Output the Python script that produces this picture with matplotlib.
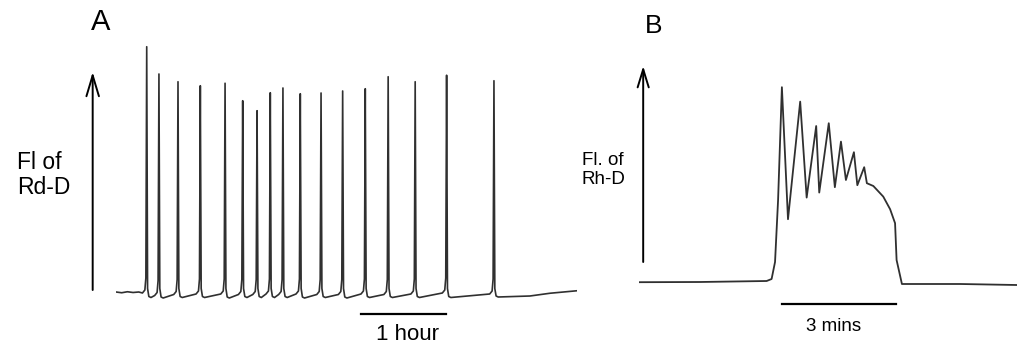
import matplotlib
matplotlib.use("Agg")
import matplotlib.pyplot as plt

plt.rcParams["font.family"] = ["Liberation Sans", "DejaVu Sans"]

W, H = 1021, 347

# --- Panel A: fluorescence spikes (time in minutes, arbitrary units) ---
a_spike_t = [21.6, 30.2, 43.6, 59.3, 76.7, 89.1, 99.2, 108.5, 117.4,
             129.6, 144.2, 159.4, 175.3, 191.4, 210.4, 232.5, 265.8]
a_spike_peak = [99.7, 88.8, 85.7, 84.1, 85.1, 78.1, 74.1, 81.3, 83.2,
                80.9, 81.2, 82.0, 82.9, 87.7, 85.7, 88.3, 86.1]
a_pre_base = [1.2, 0.2, 0.6, 0.8, 0.8, 0.6, 0.6, 0.8, 0.6,
              0.8, 0.6, 0.6, 0.8, 0.6, 0.8, 1.2, 0.8]
a_post_dip = [-0.6, -0.8, -0.6, -0.6, -0.8, -0.6, -0.6, -0.6, -0.6,
              -0.8, -0.6, -0.8, -0.6, -0.6, -0.6, -0.6, -0.4]
a_start_t = [0.0, 4.0, 8.0, 12.0, 16.0]
a_start_f = [1.6, 1.3, 1.7, 1.4, 1.6]
a_end_t = [291.1, 305.2, 324.2]
a_end_f = [0.0, 1.1, 2.1]

# --- Panel B: single burst (time in minutes, arbitrary units) ---
b_t = [0.0, 1.60, 3.35, 3.48, 3.57, 3.65, 3.75, 3.91, 4.23, 4.40, 4.65,
       4.73, 4.98, 5.14, 5.30, 5.43, 5.64, 5.73, 5.91, 5.98, 6.15, 6.41,
       6.59, 6.72, 6.76, 6.90, 8.43, 9.91]
b_f = [0.4, 0.5, 1.0, 2.0, 10.5, 41.5, 97.9, 31.9, 90.7, 42.7, 78.5,
       45.2, 79.9, 47.9, 70.7, 51.5, 65.4, 48.9, 57.9, 49.9, 48.5, 43.2,
       36.9, 29.9, 11.5, -0.5, -0.5, -1.0]

# build trace A from the spike list (rounded foot on both sides of each spike)
a_t = list(a_start_t)
a_f = list(a_start_f)
for t, pk, pre, dip in zip(a_spike_t, a_spike_peak, a_pre_base, a_post_dip):
    a_t += [t - 3.0, t - 1.3, t - 0.6, t, t + 0.6, t + 1.5, t + 3.0]
    a_f += [pre, pre + 1.2, pre + 6.0, pk, 3.0, dip + 0.4, dip]
a_t += a_end_t
a_f += a_end_f


def frac(x0, y0, x1, y1):
    # pixel box -> figure fraction [left, bottom, width, height]
    return [x0 / W, 1 - y1 / H, (x1 - x0) / W, (y1 - y0) / H]


fig = plt.figure(figsize=(W / 100, H / 100), dpi=100)

axA = fig.add_axes(frac(116, 40, 577, 300))
axA.plot(a_t, a_f, color="#303030", lw=1.2, solid_joinstyle="round")
axA.set_xlim(0, 324.2)
axA.set_ylim(-1.6, 102.4)
axA.axis("off")
axA.annotate("", xy=(-16.4, 89.6), xytext=(-16.4, 2.4),
             arrowprops=dict(arrowstyle="->,head_length=1.5,head_width=0.45",
                             lw=1.4, color="black", shrinkA=0, shrinkB=0),
             annotation_clip=False)
axA.plot([172.1, 232.1], [-7.2, -7.2], color="black", lw=1.6, clip_on=False)

axB = fig.add_axes(frac(639, 60, 1017, 290))
axB.plot(b_t, b_f, color="#303030", lw=1.3)
axB.set_xlim(0, 9.92)
axB.set_ylim(-3.5, 111.5)
axB.axis("off")
axB.annotate("", xy=(0.11, 108.5), xytext=(0.11, 10.5),
             arrowprops=dict(arrowstyle="->,head_length=1.3,head_width=0.4",
                             lw=1.4, color="black", shrinkA=0, shrinkB=0),
             annotation_clip=False)
axB.plot([3.75, 6.75], [-10.5, -10.5], color="black", lw=1.6, clip_on=False)

# labels
fig.text(100.8 / W, 1 - 22.5 / H, "A", fontsize=21, ha="center", va="center")
fig.text(654 / W, 1 - 25.8 / H, "B", fontsize=19, ha="center", va="center")
fig.text(17 / W, 1 - 175 / H, "Fl of\nRd-D", fontsize=16.5, ha="left",
         va="center", linespacing=1.1)
fig.text(581.7 / W, 1 - 170 / H, "Fl. of\nRh-D", fontsize=13.5, ha="left",
         va="center", linespacing=1.1)
fig.text(407.5 / W, 1 - 335 / H, "1 hour", fontsize=16, ha="center", va="center")
fig.text(833.7 / W, 1 - 326.5 / H, "3 mins", fontsize=13.5, ha="center", va="center")

fig.savefig("out.png", dpi=100)
